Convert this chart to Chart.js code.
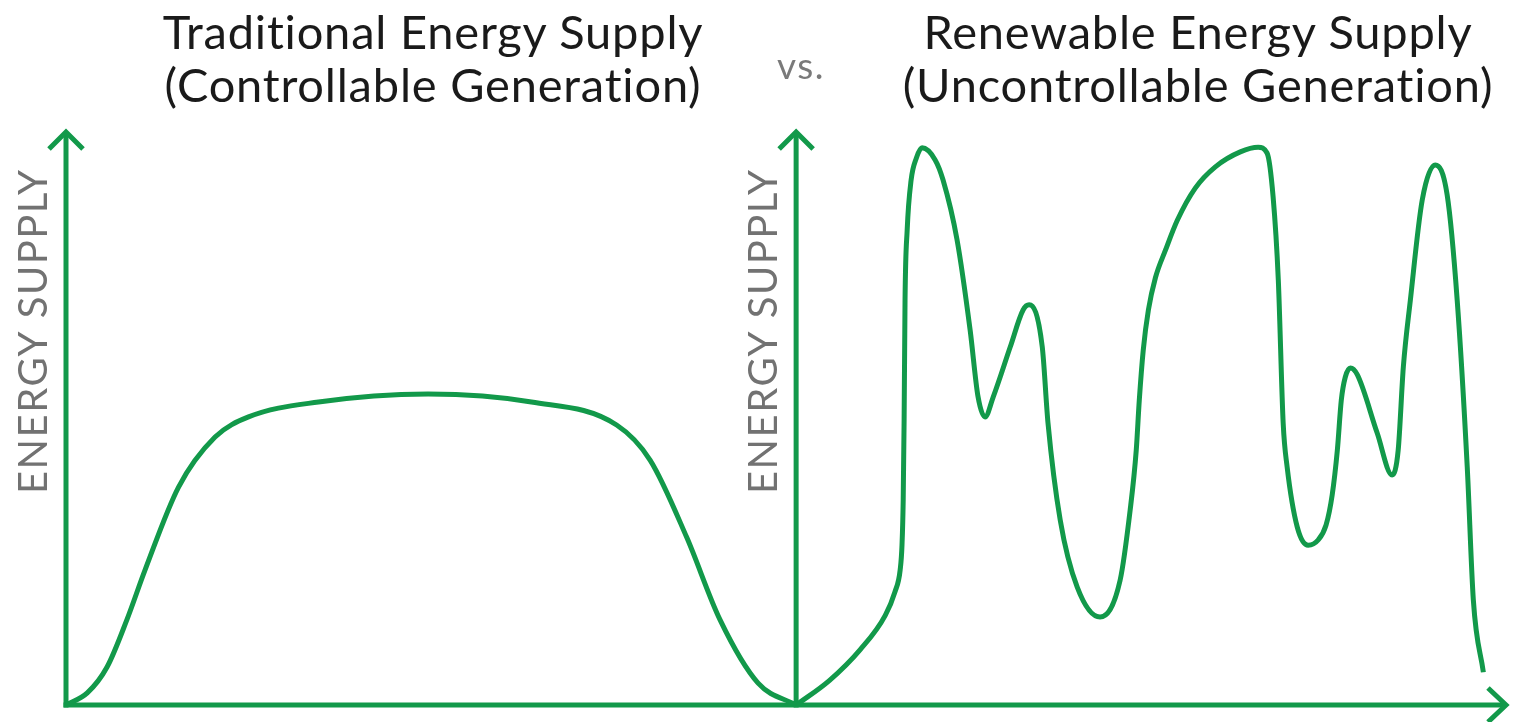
<!DOCTYPE html>
<html>
<head>
<meta charset="utf-8">
<title>Traditional vs Renewable Energy Supply</title>
<script src="https://cdn.jsdelivr.net/npm/chart.js@4"></script>
<style>
  body { margin: 0; background: #fff; }
  #wrap { position: relative; width: 1516px; height: 722px; }
  .title {
    position: absolute; top: 5px; text-align: center;
    font-family: Lato, "Open Sans", sans-serif; font-size: 47px; line-height: 53px;
    letter-spacing: 0.8px; font-variant-ligatures: none;
    color: #1a1a1a; white-space: nowrap;
  }
  #vs {
    position: absolute; left: 777px; top: 47px; line-height: 36px;
    font-family: Lato, sans-serif; font-size: 37px; letter-spacing: 1.5px; color: #7a7a7a;
  }
</style>
</head>
<body>
<div id="wrap">
  <canvas id="supplychart"></canvas>
  <div class="title" style="left:133px; width:600px;">Traditional Energy Supply<br>(Controllable Generation)</div>
  <div id="vs">vs.</div>
  <div class="title" style="left:878px; width:640px;">Renewable Energy Supply<br>(Uncontrollable Generation)</div>
</div>
<script>
// DATA - x is time (left panel 0-24, right panel 24-48), y is energy supply (0-100)
var tradTime = [0, 0.7, 1.35, 2.0, 2.6, 3.7, 4.9, 6.0, 8.3, 11.9, 15.3, 18.1, 19.2, 20.4, 21.5, 22.75, 24];
var tradSupply = [0, 2.1, 6.6, 14.8, 23.5, 37.9, 46.6, 50.1, 52.7, 54.1, 52.7, 48.7, 42.6, 29.2, 14.8, 3.8, 0];

var renewTime = [24, 25.1, 26.1, 26.93, 27.25, 27.42, 27.48, 27.52, 27.55, 27.58, 27.65, 27.78, 27.95, 28.14,
  28.57, 28.83, 29.29, 29.72, 29.98, 30.21, 30.48, 31.04, 31.46, 31.66, 32.09, 32.28, 32.68, 33.24, 33.99,
  34.65, 34.98, 35.18, 35.28, 35.41, 35.58, 35.81, 36.14, 36.53, 37.12, 37.78, 38.6, 39.19, 39.48, 39.68,
  39.85, 40.01, 40.14, 40.47, 40.83, 41.16, 41.42, 41.62, 41.79, 41.92, 42.05, 42.22, 42.45, 43.1, 43.59,
  43.79, 43.96, 44.19, 44.58, 45.01, 45.4, 45.73, 46.06, 46.26, 46.59];
var renewSupply = [0, 4.3, 9.6, 15.6, 19.7, 23.5, 27.8, 35.7, 49.6, 70.4, 82.6, 91.3, 95.1, 96.9,
  94.8, 91.3, 80.9, 65.2, 53.6, 50.1, 53.6, 62.3, 68.7, 69.6, 62.3, 49.0, 32.2, 20.5, 15.3,
  21.7, 33.9, 44.3, 53.0, 61.7, 68.7, 74.3, 79.1, 84.3, 89.9, 93.6, 96.2, 97.0, 96.0, 88.3,
  73.9, 49.0, 41.4, 31.0, 27.8, 28.7, 31.3, 36.5, 44.3, 53.0, 57.0, 58.6, 57.4, 47.3, 40.0,
  44.3, 58.8, 70.4, 87.8, 93.9, 88.7, 70.4, 41.4, 18.3, 5.7];

var panelSplit = 24;
var axisLabel = "ENERGY SUPPLY";
var green = "#12994a";

function toPoints(xs, ys) {
    var pts = [];
    for (var i = 0; i < xs.length; i++) {
        pts.push({ x: xs[i], y: ys[i] });
    }
    return pts;
}

// draws the arrow axes and the rotated axis labels
var arrowAxes = {
    id: "arrowAxes",
    beforeDatasetsDraw: function (chart) {
        var ctx = chart.ctx;
        var xs = chart.scales.x;
        var ys = chart.scales.y;
        var y0 = ys.getPixelForValue(0);
        var yTop = ys.getPixelForValue(100);
        var xLeft = xs.getPixelForValue(0);
        var xMid = xs.getPixelForValue(panelSplit);
        var xEnd = xs.right;

        ctx.save();
        ctx.strokeStyle = green;
        ctx.lineWidth = 5;
        ctx.lineJoin = "miter";

        // x axis
        ctx.beginPath();
        ctx.moveTo(xLeft - 2.5, y0);
        ctx.lineTo(xEnd - 2, y0);
        ctx.stroke();
        ctx.beginPath();
        ctx.moveTo(xEnd - 20, y0 - 17);
        ctx.lineTo(xEnd - 2, y0);
        ctx.lineTo(xEnd - 20, y0 + 17);
        ctx.stroke();

        // two y axes
        [xLeft, xMid].forEach(function (x) {
            ctx.beginPath();
            ctx.moveTo(x, y0 + 2.5);
            ctx.lineTo(x, yTop + 2);
            ctx.stroke();
            ctx.beginPath();
            ctx.moveTo(x - 17, yTop + 19);
            ctx.lineTo(x, yTop + 2);
            ctx.lineTo(x + 17, yTop + 19);
            ctx.stroke();

            ctx.save();
            ctx.translate(x - 32, ys.getPixelForValue(65));
            ctx.rotate(-Math.PI / 2);
            ctx.fillStyle = "#727272";
            ctx.font = "40px Lato, sans-serif";
            ctx.letterSpacing = "1.5px";
            ctx.textAlign = "center";
            ctx.textBaseline = "middle";
            ctx.fillText(axisLabel, 0, 0);
            ctx.restore();
        });
        ctx.restore();
    }
};

new Chart("supplychart", {
    type: "line",
    data: {
        datasets: [{
            label: "Traditional",
            data: toPoints(tradTime, tradSupply),
            borderColor: green,
            borderWidth: 5,
            pointRadius: 0,
            cubicInterpolationMode: "monotone",
            clip: false
        }, {
            label: "Renewable",
            data: toPoints(renewTime, renewSupply),
            borderColor: green,
            borderWidth: 5,
            pointRadius: 0,
            cubicInterpolationMode: "monotone",
            clip: false
        }]
    },
    options: {
        responsive: true,
        maintainAspectRatio: false,
        animation: false,
        layout: { padding: { left: 66, right: 8, top: 130, bottom: 17 } },
        scales: {
            x: { type: "linear", min: 0, max: 47.4, display: false },
            y: { min: 0, max: 100, display: false }
        },
        plugins: {
            legend: { display: false },
            tooltip: { enabled: false }
        }
    },
    plugins: [arrowAxes]
});
</script>
</body>
</html>
